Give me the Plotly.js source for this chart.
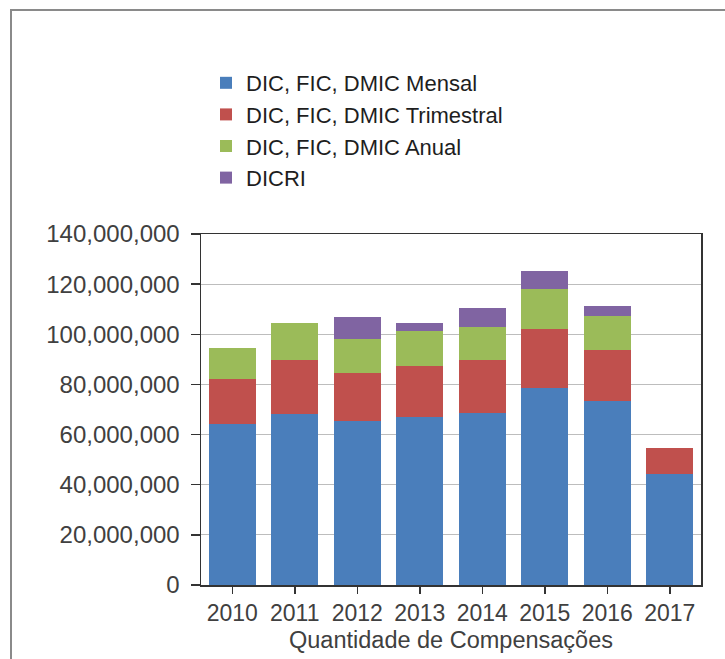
<!DOCTYPE html>
<html>
<head>
<meta charset="utf-8">
<script src="https://cdn.plot.ly/plotly-3.0.1.min.js"></script>
<style>
  html, body { margin: 0; padding: 0; background: #fff; overflow: hidden; }
  #wrap { position: relative; width: 725px; height: 659px; }
  #chart { position: absolute; left: 0; top: 0; width: 725px; height: 659px; }
  #frame { position: absolute; left: 10px; top: 9px; width: 760px; height: 700px;
           border: 2px solid #8a8a8a; box-sizing: border-box; pointer-events: none; }
</style>
</head>
<body>
<div id="wrap">
  <div id="chart"></div>
  <div id="frame"></div>
</div>
<script>
const years = ["2010", "2011", "2012", "2013", "2014", "2015", "2016", "2017"];
const mensal     = [64200000, 68100000, 65500000, 67100000, 68700000, 78500000, 73200000, 44300000];
const trimestral = [18000000, 21600000, 19200000, 20300000, 21000000, 23600000, 20500000, 10500000];
const anual      = [12500000, 14900000, 13400000, 14100000, 13300000, 15800000, 13600000, 0];
const dicri      = [0, 0, 8900000, 3100000, 7400000, 7300000, 3900000, 0];
const seriesNames = ["DIC, FIC, DMIC Mensal", "DIC, FIC, DMIC Trimestral", "DIC, FIC, DMIC Anual", "DICRI"];
const yTicks = [0, 20000000, 40000000, 60000000, 80000000, 100000000, 120000000, 140000000];
const xTitle = "Quantidade de Compensações";

const colors = ["#4a7ebb", "#c0504d", "#9bbb59", "#8064a2"];
const values = [mensal, trimestral, anual, dicri];

const traces = values.map((v, i) => ({
  type: "bar",
  x: years,
  y: v,
  name: seriesNames[i],
  marker: { color: colors[i], line: { width: 0 } },
  hoverinfo: "x+y+name"
}));

const layout = {
  width: 725,
  height: 659,
  margin: { l: 201, r: 24, t: 234, b: 74 },
  paper_bgcolor: "#ffffff",
  plot_bgcolor: "#ffffff",
  barmode: "stack",
  bargap: 0.25,
  font: { family: "Liberation Sans, Arial, sans-serif", size: 23, color: "#404040" },
  showlegend: true,
  legend: {
    x: 0.01, y: 1.49, xanchor: "left", yanchor: "top",
    traceorder: "normal",
    font: { size: 22, color: "#1e1e1e" },
    bgcolor: "rgba(0,0,0,0)"
  },
  xaxis: {
    type: "category",
    range: [-0.5, 7.5],
    showline: true, linecolor: "#333", linewidth: 1.5, mirror: true,
    ticks: "outside", ticklen: 7, tickcolor: "#333", tickwidth: 1.5,
    tickfont: { size: 23, color: "#404040" },
    title: { text: xTitle, font: { size: 23.5, color: "#404040" }, standoff: 6 },
    showgrid: false
  },
  yaxis: {
    range: [0, 140000000],
    tickvals: yTicks,
    tickformat: ",d",
    showline: true, linecolor: "#333", linewidth: 1.5, mirror: true,
    ticks: "outside", ticklen: 9, tickcolor: "#333", tickwidth: 1.5,
    ticklabelstandoff: 6,
    tickfont: { size: 24, color: "#404040" },
    showgrid: true, gridcolor: "#bdbdbd", gridwidth: 1,
    zeroline: false
  }
};

Plotly.newPlot("chart", traces, layout, { displayModeBar: false, staticPlot: true });
</script>
</body>
</html>
